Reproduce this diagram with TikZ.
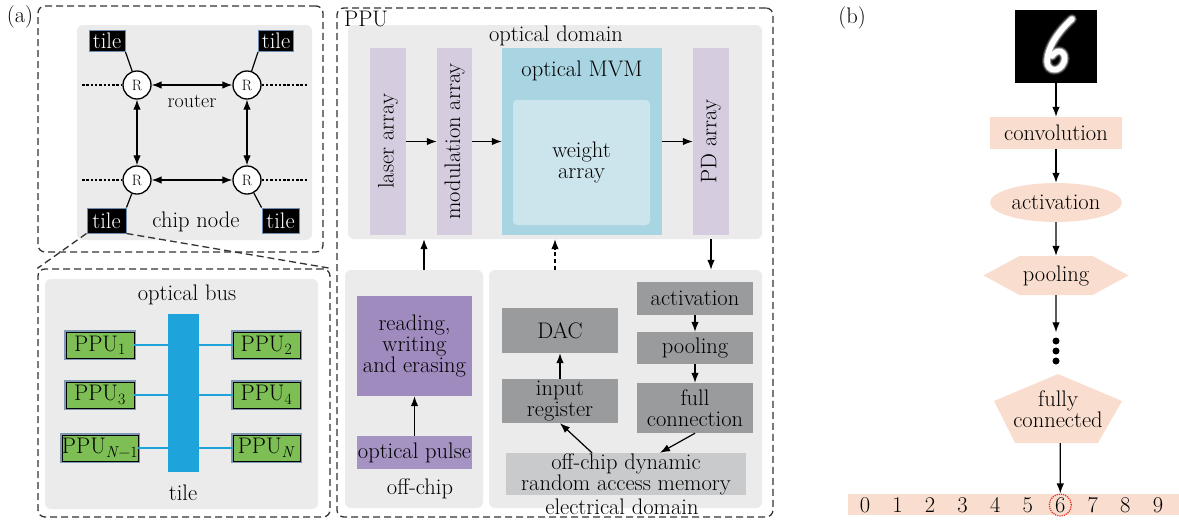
\documentclass[tikz,border=0pt]{standalone}
\usepackage{fontspec}
\usetikzlibrary{arrows.meta,shapes.geometric,shapes.symbols,calc}

\definecolor{framec}{HTML}{333333}
\definecolor{panelgray}{HTML}{EBEBEB}
\definecolor{tileedge}{HTML}{6D8DB0}
\definecolor{ppugreen}{HTML}{7DBF54}
\definecolor{ppuedge}{HTML}{8099B4}
\definecolor{busblue}{HTML}{1FA3DB}
\definecolor{lav}{HTML}{D5CCE0}
\definecolor{mvmblue}{HTML}{A9D4E1}
\definecolor{wgtblue}{HTML}{CCE4EB}
\definecolor{purp}{HTML}{9F8BBE}
\definecolor{purpb}{HTML}{A593C3}
\definecolor{gbox}{HTML}{9A9B9D}
\definecolor{dramgray}{HTML}{C9CACB}
\definecolor{peach}{HTML}{F9DECF}
\definecolor{ringred}{HTML}{E8251F}

\tikzset{
  wh/.style 2 args={minimum width=#1pt,minimum height=#2pt,inner sep=0pt},
  frame/.style={draw=framec,line width=1.3pt,dash pattern=on 7pt off 4pt,rounded corners=7pt},
  panel/.style={fill=panelgray,rounded corners=6pt},
  arr/.style={-{Latex[length=10pt,width=7.5pt]},line width=1.2pt},
  darr/.style={{Latex[length=10pt,width=7.5pt]}-{Latex[length=10pt,width=7.5pt]},line width=1.2pt},
  dotline/.style={line width=1.1pt,dash pattern=on 2.5pt off 1.8pt},
  tilebox/.style={fill=black,draw=tileedge,line width=1pt,text=white},
  router/.style={circle,draw,line width=1.3pt,fill=white,minimum size=28pt,inner sep=0pt,font=\fontsize{15}{15}\selectfont},
  ppu/.style={fill=ppugreen,draw=black,line width=0.8pt,preaction={draw=ppuedge,line width=3.5pt}},
  busline/.style={draw=busblue,line width=1.6pt},
  barbox/.style={fill=lav,rotate=90},
  graybox/.style={fill=gbox,align=center},
  flow/.style={fill=peach,align=center},
  bigdot/.style={circle,fill=black,minimum size=7pt,inner sep=0pt},
  digitstroke/.style={line cap=round,line join=round}
}

\begin{document}
\begin{tikzpicture}[x=1pt,y=-1pt,font=\fontsize{22.5}{21}\selectfont]
\useasboundingbox (0,0) rectangle (1179,520);

% ---------------- (a) chip node ----------------
\node (la) at (20,17) {(a)};
\node[frame,wh={285}{246}] (chip) at (180.5,129) {};
\node[panel,wh={235}{215}] (chipbg) at (194.5,132.5) {};

\node[router] (r1) at (137,85) {R};
\node[router] (r2) at (247,85) {R};
\node[router] (r3) at (137,180) {R};
\node[router] (r4) at (247,180) {R};

\node[tilebox,wh={36}{21}] (t1) at (107,41) {tile};
\node[tilebox,wh={35}{21}] (t2) at (276,41) {tile};
\node[tilebox,wh={39}{25}] (t3) at (106.5,220.5) {tile};
\node[tilebox,wh={37}{25}] (t4) at (280.5,220.5) {tile};

\coordinate (w1) at (82,85);  \coordinate (e1) at (307,85);
\coordinate (w2) at (82,180); \coordinate (e2) at (307,180);
\draw[dotline] (w1) -- (r1);
\draw[dotline] (r2) -- (e1);
\draw[dotline] (w2) -- (r3);
\draw[dotline] (r4) -- (e2);

\draw[darr] (r1) -- (r2);
\draw[darr] (r3) -- (r4);
\draw[darr] (r1) -- (r3);
\draw[darr] (r2) -- (r4);

\draw[line width=1.2pt] (t1.south east) -- (r1);
\draw[line width=1.2pt] (t2.south west) -- (r2);
\draw[line width=1.2pt] (t3.north east) -- (r3);
\draw[line width=1.2pt] (t4.north west) -- (r4);

\node[font=\fontsize{20}{20}\selectfont] (rlab) at (192,101) {router};
\node (cnlab) at (196,222) {chip node};

% ---------------- (a) tile ----------------
\node[frame,wh={292}{248}] (tbox) at (184,393) {};
\node[panel,wh={273}{230}] (tbg) at (181.5,394) {};
\draw[frame,rounded corners=0pt] (t3.south west) -- (tbox.north west);
\draw[frame,rounded corners=0pt] (t3.south east) -- (tbox.north east);

\node (oblab) at (187,295) {optical bus};
\node[fill=busblue,wh={31}{158}] (bus) at (183.5,393) {};

\node[ppu,wh={68}{26}] (p1) at (100,345) {PPU\textsubscript{1}};
\node[ppu,wh={67}{26}] (p2) at (266.5,345) {PPU\textsubscript{2}};
\node[ppu,wh={68}{26}] (p3) at (100,395) {PPU\textsubscript{3}};
\node[ppu,wh={67}{26}] (p4) at (266.5,395) {PPU\textsubscript{4}};
\node[ppu,wh={68}{26}] (p5) at (100,448) {PPU\textsubscript{\textit{N}−1}};
\node[ppu,wh={67}{26}] (p6) at (266.5,448) {PPU\textsubscript{\textit{N}}};

\foreach \p in {p1,p3,p5} \draw[busline] (\p.east) -- (\p.east -| bus.west);
\foreach \p in {p2,p4,p6} \draw[busline] (\p.west) -- (\p.west -| bus.east);

\node (tlab) at (183,493) {tile};

% ---------------- (a) PPU ----------------
\node[frame,wh={436}{509}] (ppuf) at (555,262.5) {};

\node[panel,wh={414}{214}] (optd) at (555,132) {};
\node[anchor=west,inner sep=0pt] (ppulab) at (344,19) {PPU};
\node (optlab) at (556,36) {optical domain};

\node[barbox,wh={187}{36}] (laser) at (388,141.5) {laser array};
\node[barbox,wh={187}{35}] (modu) at (454.5,141.5) {modulation array};
\node[fill=mvmblue,wh={160}{187}] (mvm) at (582,141.5) {};
\node (mvmlab) at (582,71) {optical MVM};
\node[fill=wgtblue,wh={137}{125},rounded corners=4pt,align=center] (wgt) at (581.5,162.5) {weight\\array};
\node[barbox,wh={187}{36}] (pd) at (711,141.5) {PD array};

\draw[arr] (laser) -- (modu);
\draw[arr] (modu) -- (mvm);
\draw[arr] (mvm) -- (pd);

\node[panel,wh={138}{238}] (offc) at (414,389) {};
\node[panel,wh={273}{238}] (elec) at (625.5,389) {};

\node[fill=purp,wh={115}{100},align=center] (rwe) at (414.5,346) {reading,\\writing\\and erasing};
\node[fill=purpb,wh={115}{33}] (pulse) at (414.5,452.5) {optical pulse};
\draw[arr] (pulse) -- (rwe);
\node (offlab) at (420,489) {off-chip};

\node[graybox,wh={116}{45}] (dac) at (560,330.5) {DAC};
\node[graybox,wh={116}{44}] (inreg) at (560,401) {input\\register};
\node[graybox,wh={116}{33}] (act) at (695,298.5) {activation};
\node[graybox,wh={116}{32}] (pool) at (695,348) {pooling};
\node[graybox,wh={116}{50}] (fullc) at (695,408) {full\\connection};
\node[fill=dramgray,wh={240}{42},align=center] (dram) at (626,474) {off-chip dynamic\\random access memory};
\node (eleclab) at (622,507) {electrical domain};

\draw[arr] (inreg) -- (dac);
\draw[arr] (act) -- (pool);
\draw[arr] (pool) -- (fullc);
\draw[arr] (fullc.south) -- ($(dram.north)+(34,0)$);
\draw[arr] ($(dram.north)+(-34,0)$) -- (inreg.south);

\coordinate (xa) at (424,0);
\coordinate (xb) at (555,0);
\draw[arr] (xa |- offc.north) -- (xa |- optd.south);
\draw[arr,dash pattern=on 4pt off 3pt] (xb |- elec.north) -- (xb |- optd.south);
\draw[arr] (pd |- optd.south) -- (pd |- elec.north);

% ---------------- (b) ----------------
\node (lb) at (852,18) {(b)};
\node[fill=black,wh={82}{73}] (img) at (1056,46.5) {};
\foreach \w/\c in {10/white!22!black,7.5/white!60!black,5.5/white}
  \draw[digitstroke,draw=\c,line width=\w pt]
    (1072,19) .. controls (1062,28) and (1048,44) .. (1047,61)
    .. controls (1047,72) and (1060,73) .. (1064,62)
    .. controls (1067,52) and (1058,47) .. (1052,56);

\node[flow,wh={132}{32}] (conv) at (1056,133) {convolution};
\node[flow,ellipse,wh={132}{39}] (actb) at (1056,202.5) {activation};
\node[flow,signal,signal to=east and west,signal pointer angle=57,wh={145}{39}] (poolb) at (1056,275.5) {pooling};

\node[bigdot] (d1) at (1056,341) {};
\node[bigdot] (d2) at (1056,351) {};
\node[bigdot] (d3) at (1056,361) {};

\fill[peach] (1058,374) -- (1122,401) -- (1098,443) -- (1015,443) -- (994,401) -- cycle;
\node[align=center] (fc) at (1058,409) {fully\\connected};
\coordinate (fcb) at (1060.3,443);

\node[fill=peach,wh={331}{21}] (outbar) at (1013.5,504.5) {};
\foreach \i in {0,...,9}
  \node (o\i) at (865+32.55*\i,505) {\i};
\node[circle,draw=ringred,densely dotted,line width=1.2pt,minimum size=22pt,inner sep=0pt] (ring) at (o6) {};

\draw[arr] (img) -- (conv);
\draw[arr] (conv) -- (actb);
\draw[arr] (actb) -- (poolb);
\draw[arr,shorten >=5pt] (poolb) -- (d1);
\draw[arr] (fcb) -- (ring.north);
\end{tikzpicture}
\end{document}
